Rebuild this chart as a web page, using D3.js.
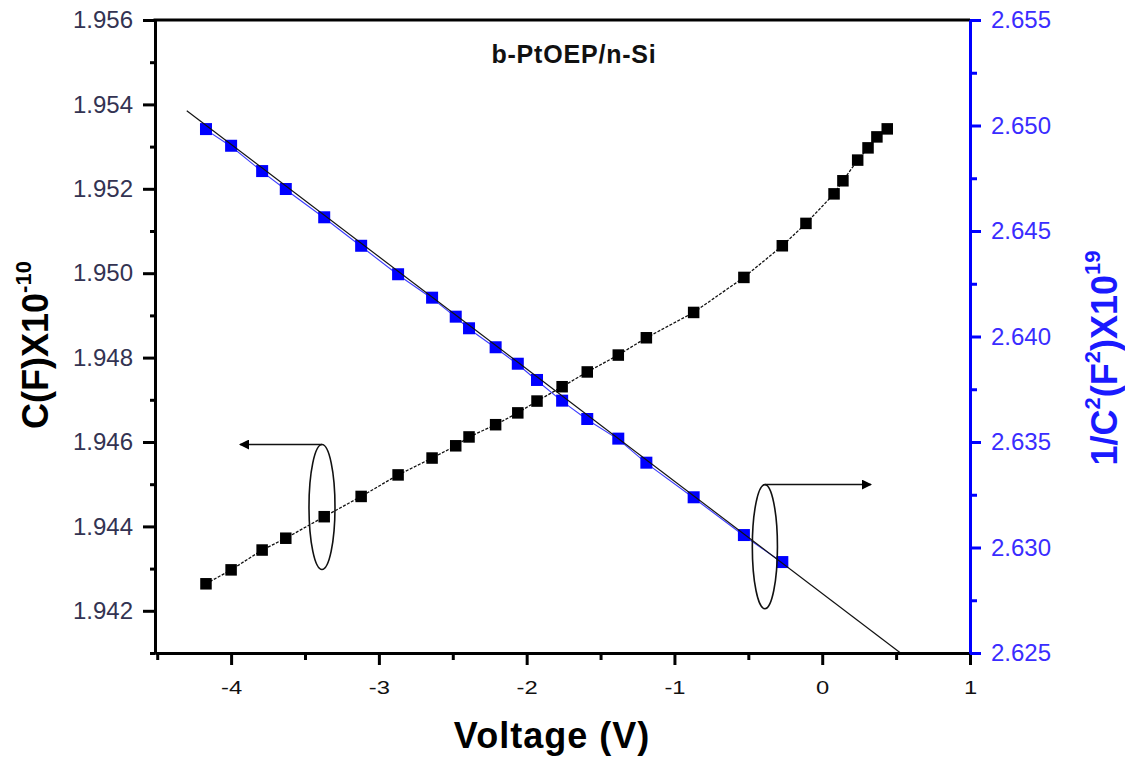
<!DOCTYPE html>
<html>
<head>
<meta charset="utf-8">
<script src="https://cdn.jsdelivr.net/npm/d3@7/dist/d3.min.js"></script>
<style>
  html, body { margin: 0; padding: 0; background: #ffffff; }
  svg { display: block; font-family: Arial, "Liberation Sans", sans-serif; }
</style>
</head>
<body>
<svg id="chart" width="1125" height="762"></svg>
<script>
// Bias voltage (V) for each capacitance measurement
const voltage = [-4.17, -4.00, -3.79, -3.63, -3.37, -3.12, -2.87, -2.64, -2.48, -2.39,
                 -2.21, -2.06, -1.93, -1.76, -1.59, -1.38, -1.19, -0.87, -0.53, -0.27,
                 -0.11, 0.08, 0.14, 0.24, 0.31, 0.37, 0.44];
// Capacitance C (F) x 10^-10
const capacitance = [1.94264, 1.94297, 1.94344, 1.94372, 1.94423, 1.94471, 1.94522, 1.94562, 1.94591, 1.94612,
                     1.94641, 1.94669, 1.94697, 1.94731, 1.94766, 1.94806, 1.94847, 1.94907, 1.94990, 1.95065,
                     1.95118, 1.95188, 1.95219, 1.95268, 1.95297, 1.95323, 1.95342];
// Mott-Schottky points: voltage and 1/C^2 (F^-2) x 10^19
const invC2Voltage = [-4.17, -4.00, -3.79, -3.63, -3.37, -3.12, -2.87, -2.64, -2.48, -2.39,
                      -2.21, -2.06, -1.93, -1.76, -1.59, -1.38, -1.19, -0.87, -0.53, -0.27];
const invC2 = [2.64983, 2.64904, 2.64784, 2.64699, 2.64565, 2.64430, 2.64295, 2.64184, 2.64094, 2.64039,
               2.63949, 2.63871, 2.63794, 2.63696, 2.63609, 2.63516, 2.63402, 2.63238, 2.63059, 2.62931];
// Linear fit of 1/C^2 versus V (end points)
const fitVoltage = [-4.30, 0.53];
const fitInvC2 = [2.6507, 2.6250];

// Tick values
const xTicks = [-4, -3, -2, -1, 0, 1];
const xMinorTicks = [-4.5, -3.5, -2.5, -1.5, -0.5, 0.5];
const leftTicks = [1.942, 1.944, 1.946, 1.948, 1.950, 1.952, 1.954, 1.956];
const leftMinorTicks = [1.941, 1.943, 1.945, 1.947, 1.949, 1.951, 1.953, 1.955];
const rightTicks = [2.625, 2.630, 2.635, 2.640, 2.645, 2.650, 2.655];
const rightMinorTicks = [2.6275, 2.6325, 2.6375, 2.6425, 2.6475, 2.6525];

// Bracket annotations (ellipse around a series, arrow pointing to its axis)
const leftBracket = { v: -3.385, c: 1.94446, rv: 0.088, rc: 0.00148, arrowTo: -3.94 };
const rightBracket = { v: -0.388, r: 2.63004, rv: 0.085, rr: 0.00294, arrowTo: 0.33 };

const svg = d3.select("#chart");
const margin = { left: 155, right: 970, top: 20, bottom: 653 };

const x = d3.scaleLinear().domain([-4.515, 1.0]).range([margin.left, margin.right]);
const yL = d3.scaleLinear().domain([1.941, 1.956]).range([margin.bottom, margin.top]);
const yR = d3.scaleLinear().domain([2.625, 2.655]).range([margin.bottom, margin.top]);

const blue = "#0000ff";

// ---- data: 1/C^2 series (blue) ----
svg.append("path")
  .datum(invC2Voltage.map((v, i) => [v, invC2[i]]))
  .attr("fill", "none")
  .attr("stroke", "#3b3bff")
  .attr("stroke-width", 1.1)
  .attr("transform", "translate(0.5,1)")
  .attr("d", d3.line().x(d => x(d[0])).y(d => yR(d[1])));

svg.append("g").selectAll("rect")
  .data(invC2Voltage.map((v, i) => [v, invC2[i]]))
  .join("rect")
  .attr("x", d => x(d[0]) - 6)
  .attr("y", d => yR(d[1]) - 6)
  .attr("width", 12)
  .attr("height", 12)
  .attr("fill", blue);

// linear fit line
svg.append("path")
  .datum(fitVoltage.map((v, i) => [v, fitInvC2[i]]))
  .attr("fill", "none")
  .attr("stroke", "#111")
  .attr("stroke-width", 1.2)
  .attr("d", d3.line().x(d => x(d[0])).y(d => yR(d[1])));

// ---- data: capacitance series (black) ----
svg.append("path")
  .datum(voltage.map((v, i) => [v, capacitance[i]]))
  .attr("fill", "none")
  .attr("stroke", "#111")
  .attr("stroke-width", 1.3)
  .attr("stroke-dasharray", "3,1.5")
  .attr("d", d3.line().x(d => x(d[0])).y(d => yL(d[1])));

svg.append("g").selectAll("rect")
  .data(voltage.map((v, i) => [v, capacitance[i]]))
  .join("rect")
  .attr("x", d => x(d[0]) - 5.75)
  .attr("y", d => yL(d[1]) - 5.75)
  .attr("width", 11.5)
  .attr("height", 11.5)
  .attr("fill", "#000");

// ---- bracket annotations ----
const defs = svg.append("defs");
defs.append("marker")
  .attr("id", "arrowHead")
  .attr("viewBox", "0 0 10 10")
  .attr("refX", 9).attr("refY", 5)
  .attr("markerWidth", 19).attr("markerHeight", 10)
  .attr("markerUnits", "userSpaceOnUse")
  .attr("orient", "auto")
  .append("path")
  .attr("d", "M0,0 L10,5 L0,10 Z")
  .attr("fill", "#000");

function bracket(cx, cy, rx, ry, tipX) {
  svg.append("ellipse")
    .attr("cx", cx).attr("cy", cy)
    .attr("rx", rx).attr("ry", ry)
    .attr("fill", "none")
    .attr("stroke", "#111")
    .attr("stroke-width", 1.6);
  svg.append("line")
    .attr("x1", cx).attr("y1", cy - ry)
    .attr("x2", tipX).attr("y2", cy - ry)
    .attr("stroke", "#111")
    .attr("stroke-width", 1.5)
    .attr("marker-end", "url(#arrowHead)");
}
bracket(x(leftBracket.v), yL(leftBracket.c),
        x(leftBracket.v + leftBracket.rv) - x(leftBracket.v),
        yL(leftBracket.c - leftBracket.rc) - yL(leftBracket.c),
        x(leftBracket.arrowTo));
bracket(x(rightBracket.v), yR(rightBracket.r),
        x(rightBracket.v + rightBracket.rv) - x(rightBracket.v),
        yR(rightBracket.r - rightBracket.rr) - yR(rightBracket.r),
        x(rightBracket.arrowTo));

// ---- axes ----
function styleAxis(g, color, labelColor) {
  g.select(".domain").attr("stroke", color).attr("stroke-width", 3);
  g.selectAll(".tick line").attr("stroke", color).attr("stroke-width", 3);
  g.selectAll(".tick text").attr("fill", labelColor);
}

// top frame line
svg.append("line")
  .attr("x1", margin.left - 1.5).attr("x2", margin.right)
  .attr("y1", margin.top).attr("y2", margin.top)
  .attr("stroke", "#000").attr("stroke-width", 3);

// bottom (voltage)
const gxMinor = svg.append("g")
  .attr("transform", `translate(0,${margin.bottom})`)
  .call(d3.axisBottom(x).tickValues(xMinorTicks).tickSize(7).tickSizeOuter(0).tickFormat(""));
styleAxis(gxMinor, "#000", "#000");
const gx = svg.append("g")
  .attr("transform", `translate(0,${margin.bottom})`)
  .call(d3.axisBottom(x).tickValues(xTicks).tickSize(12).tickSizeOuter(0).tickPadding(16)
    .tickFormat(d => String(d)));
styleAxis(gx, "#000", "#111");
gx.selectAll(".tick text")
  .attr("font-size", 19)
  .attr("font-family", "Arial, 'Liberation Sans', sans-serif")
  .attr("transform", "scale(1.25,1)");

// left (capacitance)
const gyLMinor = svg.append("g")
  .attr("transform", `translate(${margin.left},0)`)
  .call(d3.axisLeft(yL).tickValues(leftMinorTicks).tickSize(5).tickSizeOuter(0).tickFormat(""));
styleAxis(gyLMinor, "#000", "#000");
const gyL = svg.append("g")
  .attr("transform", `translate(${margin.left},0)`)
  .call(d3.axisLeft(yL).tickValues(leftTicks).tickSize(12).tickSizeOuter(0).tickPadding(10)
    .tickFormat(d3.format(".3f")));
styleAxis(gyL, "#000", "#333352");
gyL.selectAll(".tick text")
  .attr("font-size", 24)
  .attr("font-family", "Arial, 'Liberation Sans', sans-serif");

// right (1/C^2)
const gyRMinor = svg.append("g")
  .attr("transform", `translate(${margin.right},0)`)
  .call(d3.axisRight(yR).tickValues(rightMinorTicks).tickSize(7).tickSizeOuter(0).tickFormat(""));
styleAxis(gyRMinor, blue, blue);
const gyR = svg.append("g")
  .attr("transform", `translate(${margin.right},0)`)
  .call(d3.axisRight(yR).tickValues(rightTicks).tickSize(11).tickSizeOuter(0).tickPadding(10)
    .tickFormat(d3.format(".3f")));
styleAxis(gyR, blue, "#3a2cff");
gyR.selectAll(".tick text")
  .attr("font-size", 24)
  .attr("font-family", "Arial, 'Liberation Sans', sans-serif");

// ---- titles ----
svg.append("text")
  .attr("x", 574).attr("y", 63)
  .attr("text-anchor", "middle")
  .attr("font-size", 25)
  .attr("font-weight", "bold")
  .attr("letter-spacing", 0.8)
  .attr("fill", "#111")
  .text("b-PtOEP/n-Si");

svg.append("text")
  .attr("x", 552).attr("y", 748)
  .attr("text-anchor", "middle")
  .attr("font-size", 36)
  .attr("font-weight", "bold")
  .attr("letter-spacing", 1)
  .attr("fill", "#000")
  .text("Voltage (V)");

// left axis title: C(F)X10^-10
const tL = svg.append("text")
  .attr("transform", "translate(48,345) rotate(-90)")
  .attr("text-anchor", "middle")
  .attr("font-size", 36)
  .attr("font-weight", "bold")
  .attr("fill", "#000");
tL.append("tspan").text("C(F)X10");
tL.append("tspan").attr("font-size", 22).attr("dy", -17).text("-10");

// right axis title: 1/C^2(F^2)X10^19
const tR = svg.append("text")
  .attr("transform", "translate(1117,358) rotate(-90)")
  .attr("text-anchor", "middle")
  .attr("font-size", 36)
  .attr("font-weight", "bold")
  .attr("fill", "#1a1aff");
tR.append("tspan").text("1/C");
tR.append("tspan").attr("font-size", 22).attr("dy", -17).text("2");
tR.append("tspan").attr("dy", 17).text("(F");
tR.append("tspan").attr("font-size", 22).attr("dy", -17).text("2");
tR.append("tspan").attr("dy", 17).text(")X10");
tR.append("tspan").attr("font-size", 22).attr("dy", -17).text("19");
</script>
</body>
</html>
